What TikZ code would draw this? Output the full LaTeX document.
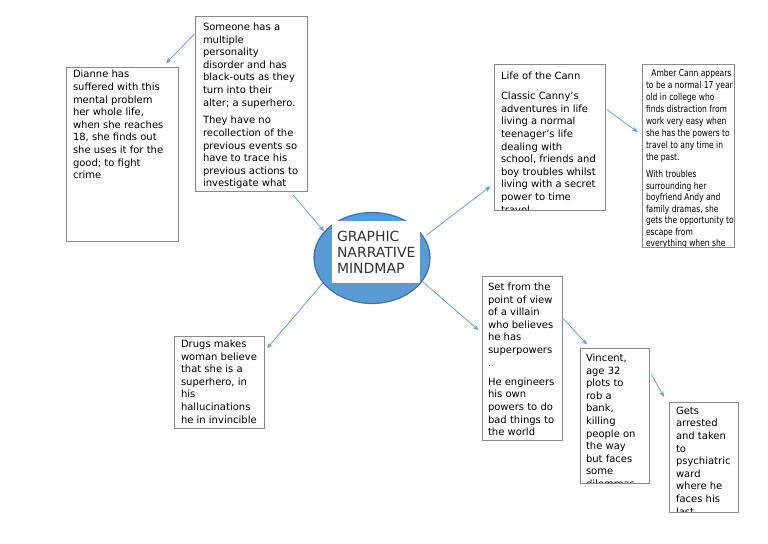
\documentclass[tikz,border=0pt]{standalone}
\usepackage{fontspec}
\setmainfont{DejaVu Sans}
\newfontfamily\dvnarrow[FakeStretch=0.8]{DejaVu Sans}
\usetikzlibrary{arrows.meta,shapes.geometric}
\definecolor{boxgray}{HTML}{8A8A8A}
\definecolor{arrblue}{HTML}{6A9FD6}
\definecolor{ellfill}{HTML}{5B9BD5}
\definecolor{elldraw}{HTML}{41719C}
\tikzset{
  tbox/.style={draw=boxgray, line width=0.6pt, rectangle, inner sep=0pt, fill=white},
  txtbase/.style={anchor=north west, inner sep=0pt, outer sep=0pt, align=left, draw=none, fill=none,
    minimum width=0pt, minimum height=0pt, text=black},
  txt/.style={txtbase, font=\fontsize{7.5}{9.45}\selectfont},
  txtn/.style={txtbase, font=\dvnarrow\fontsize{7.1}{9}\selectfont},
  arr/.style={draw=arrblue, line width=0.6pt, -{Stealth[length=4.5pt,width=3.6pt]}},
}
\begin{document}
\begin{tikzpicture}[x=0.75pt,y=-0.75pt]
\useasboundingbox (0,0) rectangle (768,543);

% central ellipse
\node[ellipse, draw=elldraw, line width=0.9pt, fill=ellfill, minimum width=87pt, minimum height=68.25pt, inner sep=0pt] (center) at (372,258) {};
\node[rectangle, fill=white, minimum width=66pt, minimum height=46.5pt, inner sep=0pt] (titlebox) at (376,252) {};
\node[anchor=north west, inner sep=0pt, align=left, font=\fontsize{10.5}{12}\selectfont, text=black!80] (title) at ([xshift=3.75pt,yshift=-7.3pt]titlebox.north west) {GRAPHIC\\NARRATIVE\\MINDMAP};

% boxes
\node[tbox, minimum width=84pt, minimum height=130.5pt,
  path picture={\node[txt] at ([xshift=5.25pt,yshift=-2.4pt]path picture bounding box.north west)
  {Dianne has\\suffered with this\\mental problem\\her whole life,\\when she reaches\\18, she finds out\\she uses it for the\\good; to fight\\crime};}] (dianne) at (122,154) {};

\node[tbox, minimum width=84pt, minimum height=131.25pt,
  path picture={\node[txt] at ([xshift=6pt,yshift=-5.2pt]path picture bounding box.north west)
  {Someone has a\\multiple\\personality\\disorder and has\\black-outs as they\\turn into their\\alter; a superhero.\\[3.9pt]They have no\\recollection of the\\previous events so\\have to trace his\\previous actions to\\investigate what};}] (someone) at (251,103.5) {};

\node[tbox, minimum width=83.25pt, minimum height=109.5pt,
  path picture={\node[txt] at ([xshift=5.25pt,yshift=-6pt]path picture bounding box.north west)
  {Life of the Cann\\[5.6pt]Classic Canny's\\adventures in life\\living a normal\\teenager's life\\dealing with\\school, friends and\\boy troubles whilst\\living with a secret\\power to time\\travel};}] (life) at (549.5,137) {};

\node[tbox, minimum width=69pt, minimum height=137.25pt,
  path picture={\node[txtn] at ([xshift=3pt,yshift=-4.1pt]path picture bounding box.north west)
  {\hspace{4pt}Amber Cann appears\\to be a normal 17 year\\old in college who\\finds distraction from\\work very easy when\\she has the powers to\\travel to any time in\\the past.\\[4pt]With troubles\\[-0.4pt]surrounding her\\[-0.4pt]boyfriend Andy and\\[-0.4pt]family dramas, she\\[-0.4pt]gets the opportunity to\\[-0.4pt]escape from\\[-0.4pt]everything when she};}] (amber) at (688,155.5) {};

\node[tbox, minimum width=60pt, minimum height=123pt,
  path picture={\node[txt] at ([xshift=4.5pt,yshift=-5.2pt]path picture bounding box.north west)
  {Set from the\\point of view\\of a villain\\who believes\\he has\\superpowers\\.\\[4.9pt]He engineers\\his own\\powers to do\\bad things to\\the world};}] (setfrom) at (522,358) {};

\node[tbox, minimum width=51.75pt, minimum height=101.25pt,
  path picture={\node[txt] at ([xshift=4.5pt,yshift=-4.4pt]path picture bounding box.north west)
  {Vincent,\\age 32\\plots to\\rob a\\bank,\\killing\\people on\\the way\\but faces\\some\\dilemmas};}] (vincent) at (614.5,415.5) {};

\node[tbox, minimum width=51.75pt, minimum height=82.5pt,
  path picture={\node[txt] at ([xshift=5.25pt,yshift=-3.7pt]path picture bounding box.north west)
  {Gets\\arrested\\and taken\\to\\psychiatric\\ward\\where he\\faces his\\last};}] (gets) at (703.5,457) {};

\node[tbox, minimum width=67.5pt, minimum height=69pt,
  path picture={\node[txt] at ([xshift=5.25pt,yshift=-2.9pt]path picture bounding box.north west)
  {Drugs makes\\woman believe\\that she is a\\superhero, in\\his\\hallucinations\\he in invincible};}] (drugs) at (219,382) {};

% connectors
\draw[arr, shorten >=3.5pt] (someone.129) -- (dianne.65);
\draw[arr, shorten <=3pt] (someone.-66) -- (center.151);
\draw[arr, shorten <=2pt, shorten >=3pt] (center.22) -- (life.-140);
\draw[arr, shorten <=1.5pt, shorten >=3.5pt] (life.27) -- (amber.156);
\draw[arr, shorten >=3pt] (center.-153) -- (drugs.34);
\draw[arr, shorten >=3pt] (center.-25) -- (setfrom.148);
\draw[arr, shorten <=1pt, shorten >=3pt] (setfrom.45) -- (vincent.110);
\draw[arr, shorten <=3pt, shorten >=7pt] (vincent.52) -- (gets.124);
\end{tikzpicture}
\end{document}
